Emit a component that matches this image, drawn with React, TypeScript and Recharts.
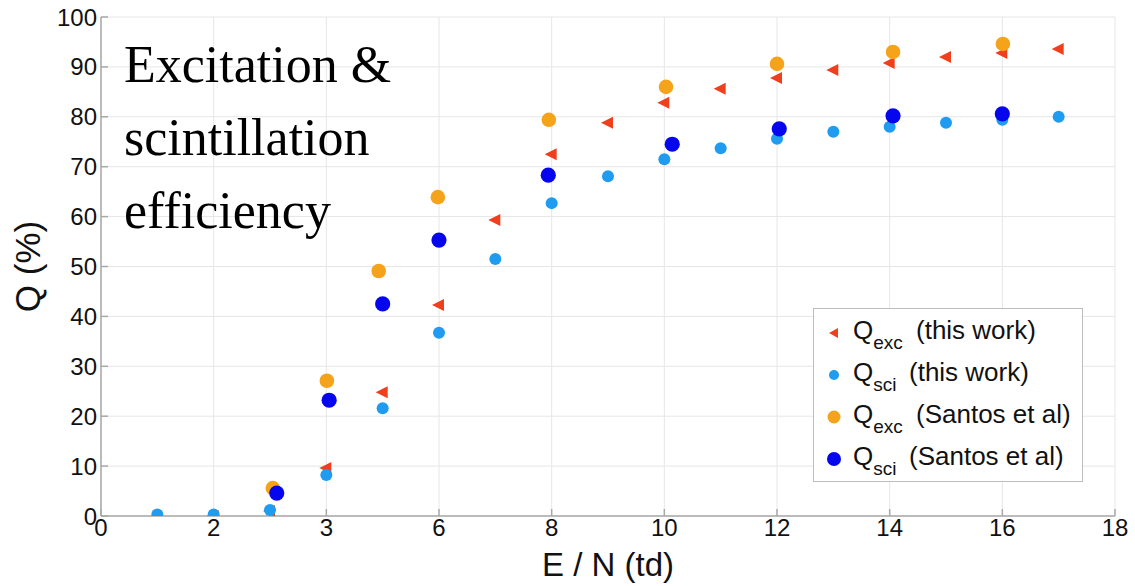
import React from 'react';
import { ScatterChart, Scatter, XAxis, YAxis, CartesianGrid, Legend } from 'recharts';

// x values are positions on the drawn axis (0..18, evenly spaced ticks)
const xTickValues = [0, 2, 4, 6, 8, 10, 12, 14, 16, 18];
const xTickLabels = ['0', '2', '3', '6', '8', '10', '12', '14', '16', '18'];
const yTickValues = [0, 10, 20, 30, 40, 50, 60, 70, 80, 90, 100];

const excThisWorkX = [2, 3, 4, 5, 6, 7, 8, 9, 10, 11, 12, 13, 14, 15, 16, 17];
const excThisWorkY = [0, 1, 9.6, 24.8, 42.3, 59.3, 72.5, 78.8, 82.8, 85.6, 87.8, 89.4, 90.8, 92.0, 92.8, 93.6];

const sciThisWorkX = [1, 2, 3, 4, 5, 6, 7, 8, 9, 10, 11, 12, 13, 14, 15, 16, 17];
const sciThisWorkY = [0.3, 0.3, 1.2, 8.2, 21.6, 36.7, 51.5, 62.7, 68.1, 71.5, 73.7, 75.6, 77, 78, 78.8, 79.4, 80];

const excSantosX = [3.05, 4.01, 4.93, 5.98, 7.95, 10.03, 12.0, 14.06, 16.01];
const excSantosY = [5.6, 27.1, 49.1, 63.9, 79.4, 86, 90.6, 93, 94.6];

const sciSantosX = [3.12, 4.05, 5.0, 6.0, 7.94, 10.14, 12.04, 14.06, 16.0];
const sciSantosY = [4.6, 23.2, 42.5, 55.3, 68.3, 74.5, 77.6, 80.2, 80.6];

const RED = '#ef3f1c';
const LIGHT_BLUE = '#1f9cf0';
const ORANGE = '#f5a31a';
const DARK_BLUE = '#0606ee';

const toPoints = (xs: number[], ys: number[]) => xs.map((x, i) => ({ x, y: ys[i] }));

const sans = '"Liberation Sans", Arial, sans-serif';
const axisColor = '#a8a8a8';

const Triangle = (props: any) => {
  const { cx, cy } = props;
  return <polygon points={`${cx - 7},${cy} ${cx + 5},${cy - 6} ${cx + 5},${cy + 6}`} fill={RED} />;
};
const dot = (color: string, r: number) => (props: any) => <circle cx={props.cx} cy={props.cy} r={r} fill={color} />;

const legendRows = [
  { sub: 'exc', text: '(this work)', marker: 'tri', color: RED, r: 0, gap: 102 },
  { sub: 'sci', text: '(this work)', marker: 'dot', color: LIGHT_BLUE, r: 5, gap: 95 },
  { sub: 'exc', text: '(Santos et al)', marker: 'dot', color: ORANGE, r: 6.5, gap: 102 },
  { sub: 'sci', text: '(Santos et al)', marker: 'dot', color: DARK_BLUE, r: 7, gap: 95 },
];

const renderLegend = () => (
  <div
    style={{
      width: 270,
      height: 174,
      boxSizing: 'border-box',
      border: '1.5px solid #bdbdbd',
      background: '#fff',
      fontFamily: sans,
      fontSize: 26,
      color: '#111',
      position: 'relative',
    }}
  >
    {legendRows.map((row, i) => (
      <div key={i} style={{ position: 'absolute', left: 0, top: 6 + i * 42, height: 40, width: 270 }}>
        <svg width={20} height={20} style={{ position: 'absolute', left: 10, top: 8 }}>
          {row.marker === 'tri' ? (
            <polygon points="5,10 14,5 14,15" fill={row.color} />
          ) : (
            <circle cx={10} cy={10} r={row.r} fill={row.color} />
          )}
        </svg>
        <span style={{ position: 'absolute', left: 39, top: 0, whiteSpace: 'nowrap', lineHeight: '30px' }}>
          Q<span style={{ fontSize: 19, position: 'relative', top: 10 }}>{row.sub}</span>
        </span>
        <span style={{ position: 'absolute', left: row.gap, top: 0, whiteSpace: 'nowrap', lineHeight: '30px' }}>
          {row.text}
        </span>
      </div>
    ))}
  </div>
);

const App: React.FC = () => {
  return (
    <div style={{ position: 'absolute', left: 0, top: 0, width: 1135, height: 586, background: '#fff' }}>
      <ScatterChart width={1135} height={586} margin={{ top: 17, right: 20, bottom: 0, left: 0 }}>
        <CartesianGrid stroke="#e6e6e6" strokeWidth={1} />
        <XAxis
          type="number"
          dataKey="x"
          domain={[0, 18]}
          ticks={xTickValues}
          tickFormatter={(v: number) => xTickLabels[xTickValues.indexOf(v)] ?? ''}
          height={70}
          stroke={axisColor}
          strokeWidth={1.5}
          tickSize={-7}
          tickMargin={10}
          tick={{ fill: '#111', fontSize: 24, fontFamily: sans }}
          allowDataOverflow
          label={{ value: 'E / N (td)', position: 'insideBottom', offset: 10, style: { fill: '#111', fontSize: 33, fontFamily: sans } }}
        />
        <XAxis
          xAxisId="top"
          orientation="top"
          type="number"
          domain={[0, 18]}
          ticks={xTickValues}
          tickFormatter={() => ''}
          height={0}
          stroke={axisColor}
          strokeWidth={1.5}
          tickSize={-7}
          allowDataOverflow
        />
        <YAxis
          type="number"
          dataKey="y"
          domain={[0, 100]}
          ticks={yTickValues}
          width={101}
          stroke={axisColor}
          strokeWidth={1.5}
          tickSize={-7}
          tickMargin={11}
          tick={{ fill: '#111', fontSize: 24, fontFamily: sans }}
          allowDataOverflow
          label={{ value: 'Q (%)', angle: -90, position: 'insideLeft', offset: 28, style: { fill: '#111', fontSize: 35, fontFamily: sans, textAnchor: 'middle' } }}
        />
        <YAxis
          yAxisId="right"
          orientation="right"
          type="number"
          domain={[0, 100]}
          ticks={yTickValues}
          tickFormatter={() => ''}
          width={0}
          stroke={axisColor}
          strokeWidth={1.5}
          tickSize={-7}
          allowDataOverflow
        />
        <Legend
          layout="vertical"
          align="center"
          verticalAlign="middle"
          content={renderLegend}
          wrapperStyle={{ left: 813, top: 308, width: 270, height: 174 }}
        />
        <Scatter name="Qexc (this work)" data={toPoints(excThisWorkX, excThisWorkY)} shape={Triangle} isAnimationActive={false} />
        <Scatter name="Qsci (this work)" data={toPoints(sciThisWorkX, sciThisWorkY)} shape={dot(LIGHT_BLUE, 6)} isAnimationActive={false} />
        <Scatter name="Qexc (Santos et al)" data={toPoints(excSantosX, excSantosY)} shape={dot(ORANGE, 7.3)} isAnimationActive={false} />
        <Scatter name="Qsci (Santos et al)" data={toPoints(sciSantosX, sciSantosY)} shape={dot(DARK_BLUE, 7.6)} isAnimationActive={false} />
      </ScatterChart>
      <div
        style={{
          position: 'absolute',
          left: 124,
          top: 28,
          fontFamily: '"Liberation Serif", "Times New Roman", serif',
          fontSize: 52,
          lineHeight: '73px',
          color: '#000',
          pointerEvents: 'none',
        }}
      >
        <div>Excitation &amp;</div>
        <div>scintillation</div>
        <div>efficiency</div>
      </div>
    </div>
  );
};

export default App;
